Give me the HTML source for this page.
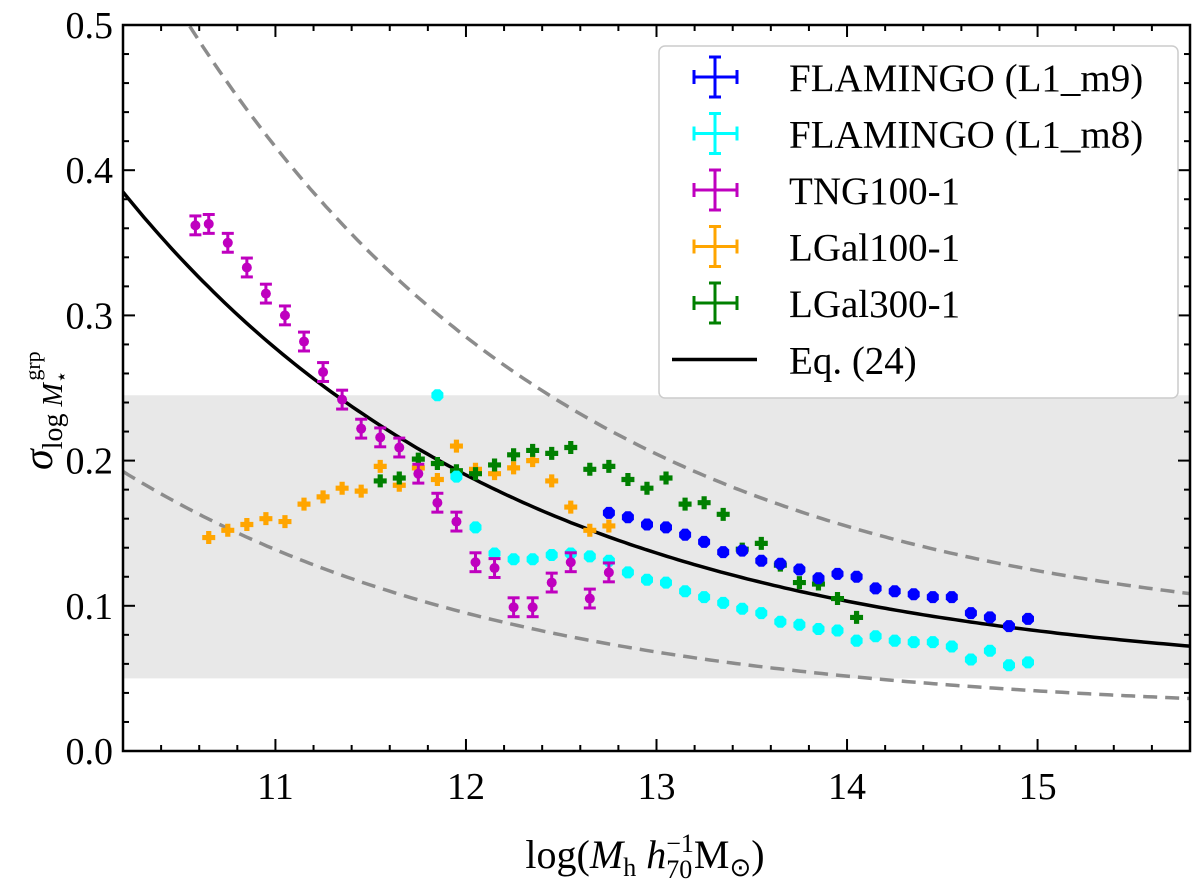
<!DOCTYPE html>
<html><head><meta charset="utf-8"><style>
body{margin:0;background:#fff;}
svg{display:block;font-family:"Liberation Serif",serif;}
</style></head><body>
<svg id="chart" width="1200" height="885" viewBox="0 0 1200 885" xmlns="http://www.w3.org/2000/svg">
<rect width="1200" height="885" fill="#fff"/>
<g id="plot"></g>
</svg>
<script>
const magX=[10.58,10.65,10.75,10.85,10.95,11.05,11.15,11.25,11.35,11.45,11.55,11.65,11.75,11.85,11.95,12.05,12.15,12.25,12.35,12.45,12.55,12.65,12.75];
const magY=[0.362,0.363,0.350,0.333,0.315,0.300,0.282,0.261,0.242,0.222,0.216,0.209,0.191,0.171,0.158,0.130,0.126,0.099,0.099,0.116,0.130,0.105,0.123];
const orgX=[10.65,10.75,10.85,10.95,11.05,11.15,11.25,11.35,11.45,11.55,11.65,11.75,11.85,11.95,12.05,12.15,12.25,12.35,12.45,12.55,12.65,12.75];
const orgY=[0.147,0.152,0.156,0.160,0.158,0.170,0.175,0.181,0.179,0.196,0.183,0.195,0.187,0.210,0.194,0.191,0.195,0.200,0.186,0.168,0.152,0.155];
const grnX=[11.55,11.65,11.75,11.85,11.95,12.05,12.15,12.25,12.35,12.45,12.55,12.65,12.75,12.85,12.95,13.05,13.15,13.25,13.35,13.45,13.55,13.65,13.75,13.85,13.95,14.05];
const grnY=[0.186,0.188,0.201,0.198,0.193,0.191,0.197,0.204,0.207,0.205,0.209,0.194,0.196,0.187,0.181,0.188,0.170,0.171,0.163,0.139,0.143,0.128,0.116,0.115,0.105,0.092];
const bluX=[12.75,12.85,12.95,13.05,13.15,13.25,13.35,13.45,13.55,13.65,13.75,13.85,13.95,14.05,14.15,14.25,14.35,14.45,14.55,14.65,14.75,14.85,14.95];
const bluY=[0.164,0.161,0.156,0.154,0.149,0.144,0.137,0.138,0.131,0.129,0.125,0.119,0.122,0.120,0.112,0.110,0.108,0.106,0.106,0.095,0.092,0.086,0.091];
const cyaX=[11.85,11.95,12.05,12.15,12.25,12.35,12.45,12.55,12.65,12.75,12.85,12.95,13.05,13.15,13.25,13.35,13.45,13.55,13.65,13.75,13.85,13.95,14.05,14.15,14.25,14.35,14.45,14.55,14.65,14.75,14.85,14.95];
const cyaY=[0.245,0.189,0.154,0.136,0.132,0.132,0.135,0.136,0.134,0.131,0.123,0.118,0.116,0.110,0.106,0.102,0.098,0.095,0.089,0.087,0.084,0.083,0.076,0.079,0.076,0.075,0.075,0.072,0.063,0.069,0.059,0.061];
const xTicks=[11,12,13,14,15];
const yTicks=[0.0,0.1,0.2,0.3,0.4,0.5];
const eqParams=[0.05,0.335,2.065];
const band=[0.05,0.245];

const L=123,R=1190,T=25,B=751,X0=10.2,X1=15.8,Y0=0,Y1=0.5;
const sx=v=>L+(v-X0)/(X1-X0)*(R-L);
const sy=v=>B-(v-Y0)/(Y1-Y0)*(B-T);
const NS="http://www.w3.org/2000/svg";
const g=document.getElementById('plot');
function el(tag,attrs,parent){const e=document.createElementNS(NS,tag);for(const k in attrs)e.setAttribute(k,attrs[k]);(parent||g).appendChild(e);return e;}
const eq=x=>eqParams[0]+eqParams[1]*Math.exp(-(x-X0)/eqParams[2]);

const cp=el('clipPath',{id:'clip'});el('rect',{x:L,y:T,width:R-L,height:B-T},cp);
const bandEl=el('rect',{x:L,y:sy(band[1]),width:R-L,height:sy(band[0])-sy(band[1]),fill:'#e8e8e8'});



function curve(f,attrs,name){let d='';for(let i=0;i<=200;i++){const x=X0+(X1-X0)*i/200;d+=(i?'L':'M')+sx(x).toFixed(1)+','+sy(f(x)).toFixed(1);}
const p=el('path',Object.assign({d:d,fill:'none','clip-path':'url(#clip)'},attrs));

}
curve(x=>1.5*eq(x),{stroke:'#8c8c8c','stroke-width':3.5,'stroke-dasharray':'14,8'},'upper-dashed-line');
curve(x=>0.5*eq(x),{stroke:'#8c8c8c','stroke-width':3.5,'stroke-dasharray':'14,8'},'lower-dashed-line');
curve(eq,{stroke:'#000','stroke-width':3.5},'eq24-line');

function plus(cx,cy,s,color){const a=s/2,b=s/5;return el('polygon',{points:[[cx-b,cy-a],[cx+b,cy-a],[cx+b,cy-b],[cx+a,cy-b],[cx+a,cy+b],[cx+b,cy+b],[cx+b,cy+a],[cx-b,cy+a],[cx-b,cy+b],[cx-a,cy+b],[cx-a,cy-b],[cx-b,cy-b]].map(p=>p.join(',')).join(' '),fill:color});}
function oct(cx,cy,r,color){const pts=[];for(let i=0;i<8;i++){const a=Math.PI/8+i*Math.PI/4;pts.push((cx+r*Math.cos(a)).toFixed(1)+','+(cy+r*Math.sin(a)).toFixed(1));}return el('polygon',{points:pts.join(' '),fill:color});}

orgX.forEach((x,i)=>{const m=plus(sx(x),sy(orgY[i]),13,'#ffa500');

});
grnX.forEach((x,i)=>{const m=plus(sx(x),sy(grnY[i]),13,'#008000');

});
cyaX.forEach((x,i)=>{const m=oct(sx(x),sy(cyaY[i]),6.5,'#00ffff');

});
bluX.forEach((x,i)=>{const m=oct(sx(x),sy(bluY[i]),6.5,'#0000ff');

});
magX.forEach((x,i)=>{const cx=sx(x),cy=sy(magY[i]),e=0.0065*1452;
const grp=el('g',{});


el('line',{x1:cx,x2:cx,y1:cy-e,y2:cy+e,stroke:'#bf00bf','stroke-width':3},grp);
el('line',{x1:cx-6,x2:cx+6,y1:cy-e,y2:cy-e,stroke:'#bf00bf','stroke-width':3},grp);
el('line',{x1:cx-6,x2:cx+6,y1:cy+e,y2:cy+e,stroke:'#bf00bf','stroke-width':3},grp);
el('circle',{cx:cx,cy:cy,r:5,fill:'#bf00bf'},grp);});

// axes frame & ticks
const frame=el('rect',{x:L,y:T,width:R-L,height:B-T,fill:'none',stroke:'#000','stroke-width':2.5});


for(let v=10.2;v<=15.81;v+=0.2){const x=sx(v);const major=Math.abs(v-Math.round(v))<0.01;const len=major?12:6;
el('line',{x1:x,x2:x,y1:B,y2:B-len,stroke:'#000','stroke-width':2});el('line',{x1:x,x2:x,y1:T,y2:T+len,stroke:'#000','stroke-width':2});}
for(let v=0;v<=0.501;v+=0.02){const y=sy(v);const major=Math.abs(v*10-Math.round(v*10))<0.01;const len=major?12:6;
el('line',{x1:L,x2:L+len,y1:y,y2:y,stroke:'#000','stroke-width':2});el('line',{x1:R,x2:R-len,y1:y,y2:y,stroke:'#000','stroke-width':2});}
xTicks.forEach(v=>{const t=el('text',{x:sx(v),y:B+48,'font-size':38,'text-anchor':'middle'});t.textContent=String(v);

});
yTicks.forEach(v=>{const t=el('text',{x:L-10,y:sy(v)+13,'font-size':38,'text-anchor':'end'});t.textContent=v.toFixed(1);

});

// legend
const lg=el('g',{});


el('rect',{x:659,y:46,width:519,height:352,rx:6,fill:'#fff',stroke:'#ccc','stroke-width':1.5},lg);
const labels=['FLAMINGO (L1_m9)','FLAMINGO (L1_m8)','TNG100-1','LGal100-1','LGal300-1','Eq. (24)'];
const cols=['#0000ff','#00ffff','#bf00bf','#ffa500','#008000','#000'];
labels.forEach((lab,i)=>{const cy=77+i*56.5;const e=el('g',{},lg);


if(i<5){el('line',{x1:694,x2:737,y1:cy,y2:cy,stroke:cols[i],'stroke-width':3},e);el('line',{x1:715,x2:715,y1:cy-20,y2:cy+20,stroke:cols[i],'stroke-width':3},e);
el('line',{x1:694,x2:694,y1:cy-7,y2:cy+7,stroke:cols[i],'stroke-width':3},e);el('line',{x1:737,x2:737,y1:cy-7,y2:cy+7,stroke:cols[i],'stroke-width':3},e);
el('line',{x1:709,x2:721,y1:cy-20,y2:cy-20,stroke:cols[i],'stroke-width':3},e);el('line',{x1:709,x2:721,y1:cy+20,y2:cy+20,stroke:cols[i],'stroke-width':3},e);}
else{el('line',{x1:672,x2:757,y1:cy,y2:cy,stroke:'#000','stroke-width':3.5},e);}
const t=el('text',{x:789,y:cy+14,'font-size':39},e);t.textContent=lab;});

// axis titles
const xt=el('text',{x:645,y:868,'font-size':40,'text-anchor':'middle'});


xt.innerHTML='log(<tspan font-style="italic">M</tspan><tspan font-size="26" dy="8">h</tspan><tspan dy="-8"> </tspan><tspan font-style="italic">h</tspan><tspan font-size="26" dy="10">70</tspan><tspan font-size="26" dx="-26" dy="-26">−1</tspan><tspan dy="16">M</tspan><tspan font-size="26" dy="8">⊙</tspan><tspan dy="-8">)</tspan>';
const yt=el('text',{x:0,y:0,'font-size':42,transform:'translate(52,470) rotate(-90)'});


yt.innerHTML='<tspan font-style="italic">σ</tspan><tspan font-size="28" dy="10">log </tspan><tspan font-size="28" font-style="italic">M</tspan><tspan font-size="20" dy="6">⋆</tspan><tspan font-size="22" dx="-10" dy="-28">grp</tspan>';
</script>
</body></html>
